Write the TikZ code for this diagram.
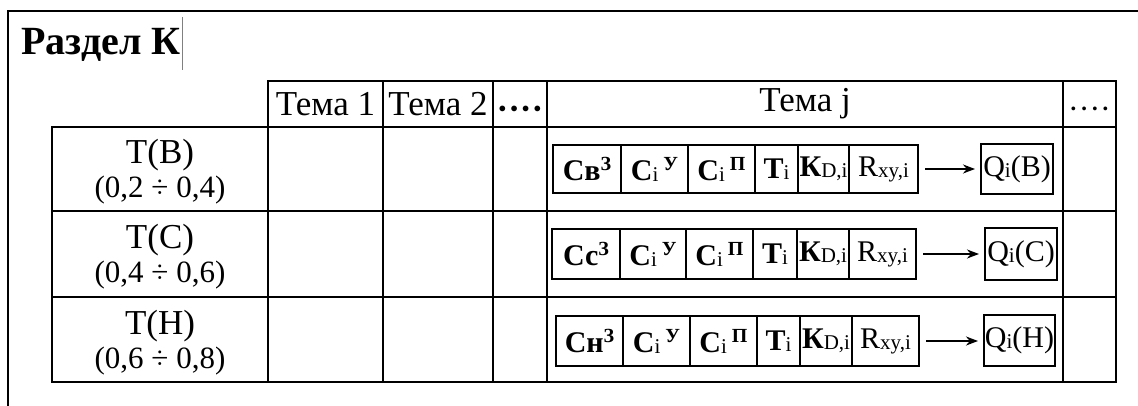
\documentclass[tikz,border=0pt]{standalone}
\usepackage{fontspec}
\setmainfont{Liberation Serif}
\usetikzlibrary{arrows.meta}
\newcommand\mysub[1]{\raisebox{-1pt}{\fontsize{21}{21}\selectfont #1}}
\newcommand\mysup[1]{\raisebox{10pt}{\fontsize{20}{20}\selectfont\bfseries #1}}
\newcommand\cellbox[7]{\node[#1, anchor=north west, minimum width={#5-#3}, minimum height={#6-#4}] (#2) at (#3,#4) {#7};}
\begin{document}
\begin{tikzpicture}[x=1pt,y=-1pt,
  grid/.style={draw, line width=2.2pt, inner sep=0pt, outer sep=0pt, font=\fontsize{35}{34}\selectfont, align=center},
  lab/.style={inner sep=0pt, font=\fontsize{35}{34}\selectfont, align=center},
  dots/.style={inner sep=0pt, font=\fontsize{35}{35}\selectfont\bfseries},
  ibox/.style={draw, line width=1.9pt, inner sep=0pt, outer sep=0pt, font=\fontsize{30}{30}\selectfont},
  arr/.style={line width=2.2pt, -{Stealth[length=12pt,width=9pt]}, shorten <=7pt, shorten >=6pt},
  frame/.style={line width=2.4pt}]
\useasboundingbox (0,0) rectangle (1138,406);
\draw[frame] (8,408) -- (8,11) -- (1140,11);
\node[anchor=base west, font=\fontsize{40}{40}\selectfont\bfseries, inner sep=0pt] (title) at (21,55) {Раздел К};
\draw[line width=0.6pt, gray] (182,17) -- (182,70);
% header
\cellbox{grid}{h1}{268}{81}{383}{127}{Тема 1}
\cellbox{grid}{h2}{383}{81}{493}{127}{Тема 2}
\cellbox{grid}{h3}{493}{81}{547}{127}{}
\cellbox{grid}{hj}{547}{81}{1063}{127}{Тема j}
\cellbox{grid}{h4}{1063}{81}{1116}{127}{}
\node[dots] (d3) at ([yshift=-9pt]h3.center) {····};
\node[dots, font=\fontsize{32}{32}\selectfont] (d4) at ([yshift=-9pt]h4.center) {····};
% row 1
\cellbox{grid}{l1}{52}{127}{268}{211}{}
\node[lab] (t1) at ([yshift=-3pt]l1.center) {Т(В)\\{\fontsize{31}{31}\selectfont (0,2 ÷ 0,4)}};
\cellbox{grid}{c11}{268}{127}{383}{211}{}
\cellbox{grid}{c12}{383}{127}{493}{211}{}
\cellbox{grid}{c13}{493}{127}{547}{211}{}
\cellbox{grid}{c1j}{547}{127}{1063}{211}{}
\cellbox{grid}{c14}{1063}{127}{1116}{211}{}
% row 2
\cellbox{grid}{l2}{52}{211}{268}{297}{}
\node[lab] (t2) at ([yshift=-3pt]l2.center) {Т(С)\\{\fontsize{31}{31}\selectfont (0,4 ÷ 0,6)}};
\cellbox{grid}{c21}{268}{211}{383}{297}{}
\cellbox{grid}{c22}{383}{211}{493}{297}{}
\cellbox{grid}{c23}{493}{211}{547}{297}{}
\cellbox{grid}{c2j}{547}{211}{1063}{297}{}
\cellbox{grid}{c24}{1063}{211}{1116}{297}{}
% row 3
\cellbox{grid}{l3}{52}{297}{268}{382}{}
\node[lab] (t3) at ([yshift=-3pt]l3.center) {Т(Н)\\{\fontsize{31}{31}\selectfont (0,6 ÷ 0,8)}};
\cellbox{grid}{c31}{268}{297}{383}{382}{}
\cellbox{grid}{c32}{383}{297}{493}{382}{}
\cellbox{grid}{c33}{493}{297}{547}{382}{}
\cellbox{grid}{c3j}{547}{297}{1063}{382}{}
\cellbox{grid}{c34}{1063}{297}{1116}{382}{}
% inner row 1
\cellbox{ibox}{a1}{553}{145}{621}{193}{\textbf{Св}\mysup{З}}
\cellbox{ibox}{b1}{621}{145}{688}{193}{\textbf{С}\mysub{i}\,\mysup{У}}
\cellbox{ibox}{d1}{688}{145}{755}{193}{\textbf{С}\mysub{i}\,\mysup{П}}
\cellbox{ibox}{e1}{755}{145}{798}{193}{\textbf{Т}\mysub{i}}
\cellbox{ibox}{k1}{798}{145}{849}{193}{\textbf{К}\mysub{D,i}}
\cellbox{ibox}{f1}{849}{145}{918}{193}{R\mysub{xy,i}}
\cellbox{ibox}{q1}{981}{144}{1053}{194}{Q\mysub{i}(В)}
\draw[arr] (f1.east) -- (f1.east -| q1.west);
% inner row 2
\cellbox{ibox}{a2}{552}{229}{620}{279}{\textbf{Сс}\mysup{З}}
\cellbox{ibox}{b2}{620}{229}{686}{279}{\textbf{С}\mysub{i}\,\mysup{У}}
\cellbox{ibox}{d2}{686}{229}{753}{279}{\textbf{С}\mysub{i}\,\mysup{П}}
\cellbox{ibox}{e2}{753}{229}{797}{279}{\textbf{Т}\mysub{i}}
\cellbox{ibox}{k2}{797}{229}{849}{279}{\textbf{К}\mysub{D,i}}
\cellbox{ibox}{f2}{849}{229}{916}{279}{R\mysub{xy,i}}
\cellbox{ibox}{q2}{985}{228}{1057}{280}{Q\mysub{i}(С)}
\draw[arr] (f2.east) -- (f2.east -| q2.west);
% inner row 3
\cellbox{ibox}{a3}{556}{316}{623}{366}{\textbf{Сн}\mysup{З}}
\cellbox{ibox}{b3}{623}{316}{690}{366}{\textbf{С}\mysub{i}\,\mysup{У}}
\cellbox{ibox}{d3}{690}{316}{757}{366}{\textbf{С}\mysub{i}\,\mysup{П}}
\cellbox{ibox}{e3}{757}{316}{800}{366}{\textbf{Т}\mysub{i}}
\cellbox{ibox}{k3}{800}{316}{852}{366}{\textbf{К}\mysub{D,i}}
\cellbox{ibox}{f3}{852}{316}{919}{366}{R\mysub{xy,i}}
\cellbox{ibox}{q3}{984}{315}{1055}{366}{Q\mysub{i}(Н)}
\draw[arr] (f3.east) -- (f3.east -| q3.west);
\end{tikzpicture}
\end{document}
